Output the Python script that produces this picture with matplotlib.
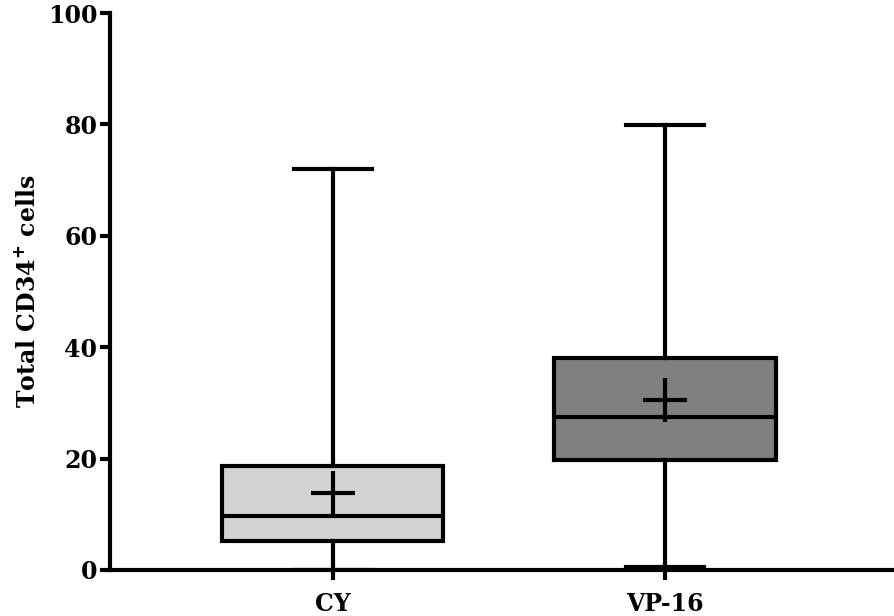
import matplotlib.pyplot as plt

groups = ['CY', 'VP-16']
whislo = [0.0, 0.5]
q1 = [5.2, 19.7]
med = [9.7, 27.5]
q3 = [18.7, 38.1]
whishi = [72.0, 79.9]
means = [13.8, 30.5]
fills = ['#d3d3d3', '#808080']

plt.rcParams['font.family'] = 'DejaVu Serif'
plt.rcParams['font.weight'] = 'bold'

fig = plt.figure(figsize=(8.94, 6.16), dpi=100)
ax = fig.add_axes([0.123, 0.0747, 0.877, 0.904])

stats = []
for i, g in enumerate(groups):
    stats.append(dict(label=g, whislo=whislo[i], q1=q1[i], med=med[i],
                      q3=q3[i], whishi=whishi[i], mean=means[i], fliers=[]))

lw = 3
bp = ax.bxp(stats, positions=[0, 1], widths=0.667, patch_artist=True,
            showmeans=True, showfliers=False, capwidths=0.235,
            boxprops=dict(linewidth=lw, edgecolor='black'),
            medianprops=dict(color='black', linewidth=lw),
            whiskerprops=dict(color='black', linewidth=lw),
            capprops=dict(color='black', linewidth=lw),
            meanprops=dict(marker='+', markersize=32, markeredgecolor='black',
                           markeredgewidth=lw))
for patch, c in zip(bp['boxes'], fills):
    patch.set_facecolor(c)

ax.set_xlim(-0.67, 1.69)
ax.set_ylim(0, 100)
ax.set_yticks([0, 20, 40, 60, 80, 100])
ax.spines['top'].set_visible(False)
ax.spines['right'].set_visible(False)
ax.spines['left'].set_linewidth(lw)
ax.spines['bottom'].set_linewidth(lw)
ax.tick_params(axis='both', width=lw, length=7, labelsize=17)
ax.tick_params(axis='y', pad=2)
ax.tick_params(axis='x', pad=9, labelsize=17)
ax.set_ylabel('Total CD34$^{+}$ cells', fontsize=17, fontweight='bold', labelpad=6)
for sp in ax.spines.values():
    sp.set_clip_on(False)

fig.savefig('out.png', dpi=100)
